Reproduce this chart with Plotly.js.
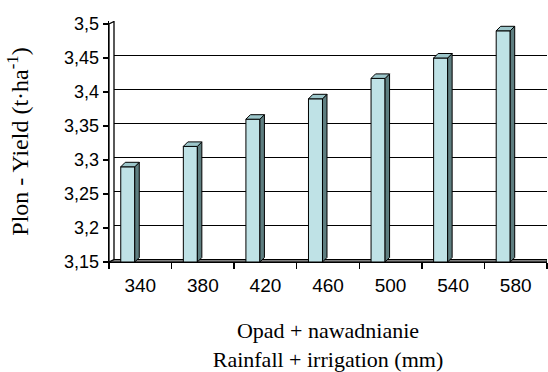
<!DOCTYPE html>
<html><head><meta charset="utf-8">
<script src="https://cdn.plot.ly/plotly-3.0.1.min.js"></script>
<style>html,body{margin:0;padding:0;background:#fff}</style>
</head><body><div id="chart" style="width:548px;height:372px"></div>
<script>
// ---- data ----
const categories = ['340','380','420','460','500','540','580'];
const yieldValues = [3.29, 3.32, 3.36, 3.39, 3.42, 3.45, 3.49];
const yTickVals = [3.15, 3.2, 3.25, 3.3, 3.35, 3.4, 3.45, 3.5];
const yTickText = ['3,15','3,2','3,25','3,3','3,35','3,4','3,45','3,5'];

// ---- geometry ----
const W = 548, H = 372, M = {l:109, r:1, t:21, b:110};
const plotW = W - M.l - M.r, plotH = H - M.t - M.b;
const n = categories.length;
const xUnit = plotW / n;
const yBase = yTickVals[0], yFrontTop = yTickVals[yTickVals.length-1];
const pxPerY = 238 / (yFrontTop - yBase);
const yMax = yBase + plotH / pxPerY;
const wdx = 5 / xUnit, wdy = 2.5 / pxPerY;     // back wall depth
const bdx = 4.5 / xUnit, bdy = 4.5 / pxPerY;   // bar depth
const barW = 0.224, barOff = -0.312;

const idx = categories.map((_, i) => i);
const bounds = idx.map(i => i - 0.5).concat([n - 0.5]);

const sideX = [], sideY = [], topX = [], topY = [];
yieldValues.forEach((v, i) => {
  const xl = i + barOff, xr = xl + barW;
  sideX.push(xr, xr, xr + bdx, xr + bdx, xr, null);
  sideY.push(yBase, v, v + bdy, yBase + bdy, yBase, null);
  topX.push(xl, xr, xr + bdx, xl + bdx, xl, null);
  topY.push(v, v, v + bdy, v + bdy, v, null);
});

const traces = [
  { type:'bar', x:[(n-1)/2], y:[wdy], base:[yBase], width:[n],
    marker:{color:'#808080', line:{color:'#000', width:1}}, hoverinfo:'skip', showlegend:false },
  { type:'bar', x:idx, y:yieldValues.map(v => v - yBase), base:yBase, width:barW, offset:barOff,
    marker:{color:'#BFE2E6', line:{color:'#000', width:1}}, showlegend:false },
  { type:'scatter', mode:'lines', x:sideX, y:sideY, fill:'toself', fillcolor:'#5E7E80',
    line:{color:'#000', width:1}, hoverinfo:'skip', showlegend:false },
  { type:'scatter', mode:'lines', x:topX, y:topY, fill:'toself', fillcolor:'#9CC6CA',
    line:{color:'#000', width:1}, hoverinfo:'skip', showlegend:false },
  { type:'scatter', mode:'lines',
    x:[-0.5, -0.5, -0.5 + wdx, -0.5 + wdx, -0.5],
    y:[yBase, yFrontTop, yFrontTop + wdy, yBase + wdy, yBase],
    fill:'toself', fillcolor:'#fff', line:{color:'#000', width:1.3}, hoverinfo:'skip', showlegend:false },
  { type:'scatter', mode:'markers', x:[0], y:[3.3], yaxis:'y2', marker:{opacity:0}, hoverinfo:'skip', showlegend:false }
];

const layout = {
  width:W, height:H, margin:M, paper_bgcolor:'#fff', plot_bgcolor:'rgba(0,0,0,0)',
  barmode:'overlay', showlegend:false,
  font:{family:'Liberation Sans, Arial, sans-serif', color:'#000'},
  xaxis:{
    range:[-0.5, n - 0.5], tickmode:'array', tickvals:idx, ticktext:categories,
    ticks:'outside', ticklen:6, tickcolor:'rgba(0,0,0,0)',
    showline:true, linecolor:'#000', linewidth:1.3, showgrid:false, zeroline:false,
    tickfont:{size:19, family:'Liberation Sans, Arial, sans-serif', color:'#000'},
    minor:{tickmode:'array', tickvals:bounds, ticks:'outside', ticklen:6, tickcolor:'#000', tickwidth:1.3, showgrid:false},
    title:{text:'Opad + nawadnianie<br>Rainfall + irrigation (mm)', standoff:30,
      font:{family:'Liberation Serif, Times New Roman, serif', size:22, color:'#000'}}
  },
  yaxis:{
    range:[yBase, yMax], tickmode:'array', tickvals:yTickVals, ticktext:yTickText,
    ticks:'outside', ticklen:5, tickcolor:'#000', tickwidth:1.3,
    showline:true, linecolor:'#000', linewidth:1.3, showgrid:false, zeroline:false,
    tickfont:{size:18, family:'Liberation Sans, Arial, sans-serif', color:'#000'},
    title:{text:'Plon - Yield (t·ha<sup>-1</sup>)', standoff:28,
      font:{family:'Liberation Serif, Times New Roman, serif', size:24, color:'#000'}}
  },
  yaxis2:{
    overlaying:'y', range:[yBase - wdy, yMax - wdy], tickmode:'array', tickvals:yTickVals,
    showgrid:true, gridcolor:'#000', gridwidth:1.3, showticklabels:false, ticks:'',
    showline:false, zeroline:false
  }
};

Plotly.newPlot('chart', traces, layout, {displayModeBar:false, staticPlot:true});
</script></body></html>
